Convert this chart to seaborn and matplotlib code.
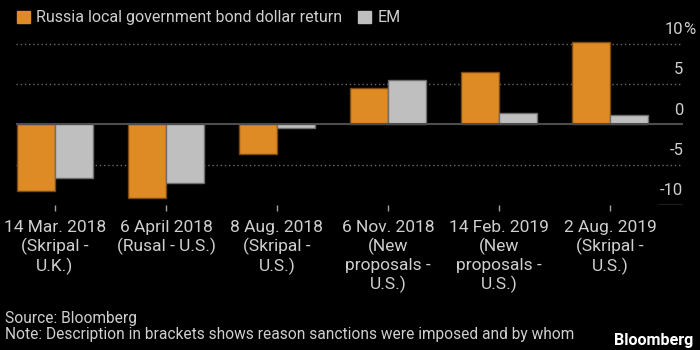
import numpy as np
import pandas as pd
import seaborn as sns
import matplotlib.pyplot as plt
from matplotlib.patches import Patch

# Chart data
events = ['14 Mar. 2018\n(Skripal -\nU.K.)',
          '6 April 2018\n(Rusal - U.S.)',
          '8 Aug. 2018\n(Skripal -\nU.S.)',
          '6 Nov. 2018\n(New\nproposals -\nU.S.)',
          '14 Feb. 2019\n(New\nproposals -\nU.S.)',
          '2 Aug. 2019\n(Skripal -\nU.S.)']
russia_return = [-8.2, -9.1, -3.7, 4.5, 6.5, 10.2]
em_return = [-6.6, -7.3, -0.4, 5.5, 1.4, 1.2]
series_names = ['Russia local government bond dollar return', 'EM']
y_ticks = [-10, -5, 0, 5, 10]

df = pd.DataFrame({
    'event': events * 2,
    'value': russia_return + em_return,
    'series': [series_names[0]] * len(events) + [series_names[1]] * len(events),
})

bg = '#000000'
txt = '#cfcfcf'
orange = '#de8a25'
grey = '#bfbfbf'
fs = 11.2

sns.set_theme(style='dark', rc={'figure.facecolor': bg, 'axes.facecolor': bg})
plt.rcParams['font.family'] = ['Roboto', 'DejaVu Sans']

fig = plt.figure(figsize=(7, 3.5), dpi=100)
ax = fig.add_axes([0.023, 0.414, 0.953, 0.477])

sns.barplot(data=df, x='event', y='value', hue='series', palette=[orange, grey],
            width=0.69, gap=0, saturation=1, legend=False, ax=ax, zorder=3)

for cont, ec in zip(ax.containers, ['#7a4c14', '#6e6e6e']):
    for p in cont:
        p.set_edgecolor(ec)
        p.set_linewidth(1)

ax.set_ylim(-10, 10.7)
ax.set_xlim(-0.35, 5.66)
ax.set_xlabel('')
ax.set_ylabel('')
ax.set_yticks([])
for s in ax.spines.values():
    s.set_visible(False)

# grid and zero line
for v in [-5, 5, 10]:
    ax.axhline(v, color='#6a6a6a', lw=1, ls=(0, (1, 2)), zorder=1)
ax.axhline(0, color='#4d4d4d', lw=1.5, zorder=4)
ax.axhline(-10, xmin=0.9625, xmax=1, color='#9a9a9a', lw=1)

# y labels on the right, above each line
for v in y_ticks:
    ax.annotate(str(v), xy=(1, v), xycoords=('axes fraction', 'data'),
                xytext=(0, 5), textcoords='offset points', ha='right', va='bottom',
                color=txt, fontsize=12)
ax.annotate('%', xy=(1, 10), xycoords=('axes fraction', 'data'),
            xytext=(0, 5), textcoords='offset points', ha='left', va='bottom',
            color=txt, fontsize=12)

ax.tick_params(axis='x', colors='#a0a0a0', length=4.5, width=1, pad=6,
               labelcolor=txt, labelsize=12.5, bottom=True)
for lbl in ax.get_xticklabels():
    lbl.set_linespacing(1.22)

handles = [Patch(facecolor=orange, edgecolor=orange), Patch(facecolor=grey, edgecolor=grey)]
fig.legend(handles, series_names, loc='upper left', bbox_to_anchor=(0.004, 1.012), ncol=2,
           frameon=False, handlelength=0.8, handleheight=0.8, handletextpad=0.4,
           columnspacing=1.0, fontsize=11.5, labelcolor=txt)

fig.text(0.007, 1 - 318 / 350, 'Source: Bloomberg', va='center', color=txt, fontsize=fs)
fig.text(0.007, 1 - 335 / 350,
         'Note: Description in brackets shows reason sanctions were imposed and by whom',
         va='center', color=txt, fontsize=fs)
fig.text(0.991, 1 - 340 / 350, 'Bloomberg', ha='right', va='center', color='white',
         fontsize=11.6, fontweight='bold')

fig.savefig('out.png', dpi=100, facecolor=bg)
